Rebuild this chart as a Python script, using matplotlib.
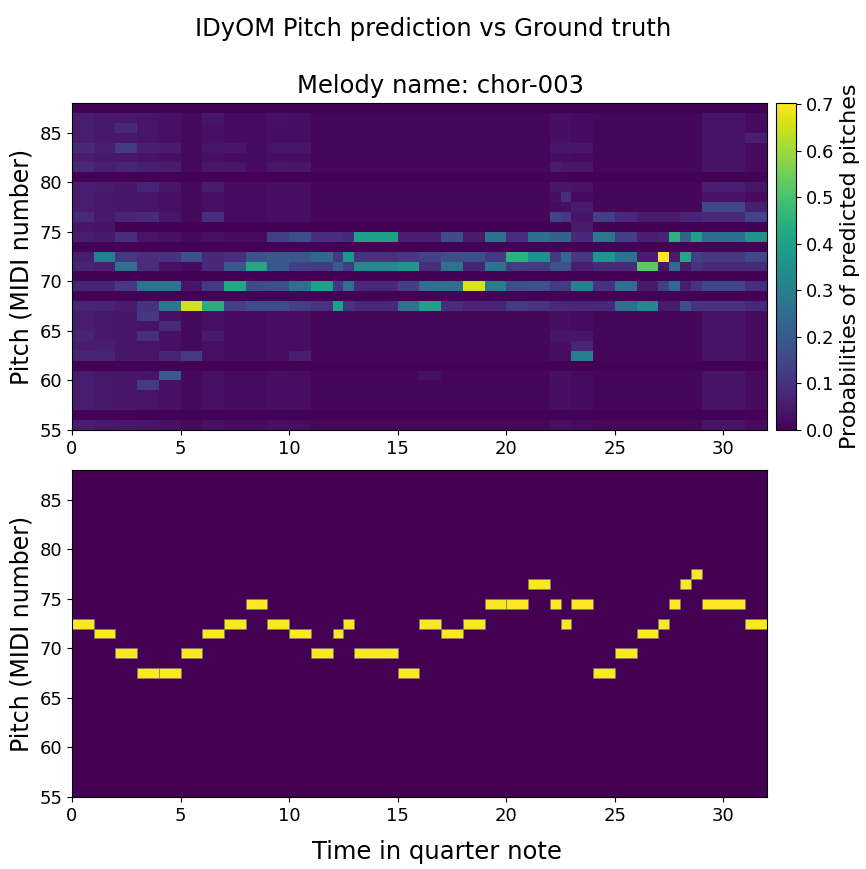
import numpy as np
import matplotlib
matplotlib.use("Agg")
import matplotlib.pyplot as plt

melody = "chor-003"

# note events (quarter notes): onset, duration, ground-truth MIDI pitch
onsets = [0, 1, 2, 3, 4, 5, 6, 7, 8, 9, 10, 11, 12, 12.5, 13, 15, 16, 17, 18, 19, 20,
          21, 22, 22.5, 23, 24, 25, 26, 27, 27.5, 28, 28.5, 29, 31]
durations = [1, 1, 1, 1, 1, 1, 1, 1, 1, 1, 1, 1, 0.5, 0.5, 2, 1, 1, 1, 1, 1, 1,
             1, 0.5, 0.5, 1, 1, 1, 1, 0.5, 0.5, 0.5, 0.5, 2, 1]
truth = [72, 71, 69, 67, 67, 69, 71, 72, 74, 72, 71, 69, 71, 72, 69, 67, 72, 71, 72, 74, 74,
         76, 74, 72, 74, 67, 69, 71, 72, 74, 76, 77, 74, 72]

pitch_lo, pitch_hi = 55, 88

# predicted probabilities
# "floor" = level of the faint cells in each event, dark_pitches = near zero rows
floor = [0.055, 0.045, 0.042, 0.038, 0.028, 0.018, 0.028, 0.02, 0.02, 0.025, 0.022,
         0.012, 0.012, 0.012, 0.012, 0.012, 0.012, 0.012, 0.012, 0.012, 0.012,
         0.012, 0.025, 0.025, 0.02, 0.012, 0.012, 0.012, 0.012, 0.012, 0.012, 0.012,
         0.035, 0.02]
dark_pitches = [56, 61, 68, 70, 73, 75, 80, 87]
dark_level = 0.003

probs = [
    {76: 0.085, 83: 0.08, 81: 0.08, 64: 0.07, 62: 0.07, 71: 0.07, 69: 0.07, 67: 0.07, 75: 0.04},
    {72: 0.30, 71: 0.06, 69: 0.07, 67: 0.07, 62: 0.07, 63: 0.06, 81: 0.06, 83: 0.06, 79: 0.05, 75: 0.035},
    {71: 0.26, 72: 0.11, 69: 0.11, 83: 0.12, 85: 0.08, 74: 0.09, 76: 0.07, 81: 0.07, 67: 0.05},
    {69: 0.27, 72: 0.09, 71: 0.09, 67: 0.10, 66: 0.11, 59: 0.12, 64: 0.09, 76: 0.08, 79: 0.07,
     81: 0.06, 83: 0.06},
    {69: 0.27, 67: 0.28, 72: 0.10, 60: 0.20, 65: 0.08, 62: 0.07, 83: 0.05, 81: 0.05, 76: 0.04,
     79: 0.04, 71: 0.03},
    {67: 0.65, 72: 0.17, 69: 0.04, 62: 0.12, 71: 0.02},
    {67: 0.44, 69: 0.12, 72: 0.08, 71: 0.08, 76: 0.09, 79: 0.05, 64: 0.05, 83: 0.04, 81: 0.04,
     86: 0.04},
    {69: 0.42, 71: 0.19, 67: 0.13, 72: 0.09, 83: 0.04, 81: 0.04},
    {71: 0.42, 72: 0.18, 69: 0.16, 67: 0.16},
    {72: 0.19, 71: 0.19, 69: 0.17, 67: 0.16, 74: 0.13, 83: 0.04, 81: 0.04, 86: 0.03, 85: 0.03},
    {74: 0.17, 72: 0.19, 71: 0.13, 69: 0.25, 67: 0.13, 62: 0.06, 83: 0.04, 81: 0.04},
    {74: 0.09, 72: 0.23, 71: 0.12, 69: 0.40, 67: 0.10},
    {74: 0.09, 72: 0.12, 71: 0.20, 69: 0.11, 67: 0.40},
    {74: 0.08, 72: 0.37, 71: 0.12, 69: 0.25, 67: 0.10},
    {74: 0.40, 72: 0.10, 71: 0.33, 69: 0.08, 67: 0.08},
    {74: 0.06, 72: 0.12, 71: 0.37, 69: 0.13, 67: 0.26},
    {74: 0.06, 72: 0.14, 71: 0.09, 69: 0.25, 67: 0.40, 60: 0.03},
    {74: 0.16, 72: 0.17, 71: 0.27, 69: 0.25, 67: 0.09},
    {74: 0.05, 72: 0.17, 71: 0.07, 69: 0.66, 67: 0.07},
    {74: 0.26, 72: 0.12, 71: 0.26, 69: 0.30, 67: 0.07},
    {74: 0.09, 72: 0.45, 71: 0.12, 69: 0.17, 67: 0.12},
    {74: 0.25, 72: 0.35, 71: 0.11, 69: 0.18, 67: 0.10},
    {76: 0.14, 74: 0.22, 72: 0.12, 71: 0.18, 69: 0.12, 67: 0.08, 77: 0.02, 79: 0.04, 81: 0.05,
     83: 0.04, 84: 0.03, 64: 0.04, 60: 0.03},
    {76: 0.12, 74: 0.22, 72: 0.24, 71: 0.18, 69: 0.12, 67: 0.08, 78: 0.09, 79: 0.04, 81: 0.04,
     83: 0.04, 84: 0.03, 64: 0.04, 60: 0.03},
    {76: 0.04, 74: 0.08, 72: 0.11, 71: 0.06, 69: 0.30, 67: 0.08, 62: 0.30, 63: 0.07, 77: 0.05,
     75: 0.05, 64: 0.04, 83: 0.04, 81: 0.04, 79: 0.035},
    {76: 0.13, 74: 0.28, 72: 0.36, 71: 0.08, 69: 0.10, 67: 0.08},
    {76: 0.08, 74: 0.13, 72: 0.26, 71: 0.08, 69: 0.25, 67: 0.25},
    {76: 0.05, 74: 0.06, 72: 0.05, 71: 0.52, 69: 0.05, 67: 0.33},
    {76: 0.05, 74: 0.07, 72: 0.703, 71: 0.04, 69: 0.13, 67: 0.05},
    {76: 0.05, 74: 0.45, 72: 0.05, 71: 0.24, 69: 0.24, 67: 0.05},
    {76: 0.07, 74: 0.22, 72: 0.42, 71: 0.05, 69: 0.06, 67: 0.17},
    {76: 0.07, 74: 0.40, 72: 0.13, 71: 0.10, 69: 0.10, 67: 0.10},
    {77: 0.15, 76: 0.08, 74: 0.25, 72: 0.11, 71: 0.08, 69: 0.15, 67: 0.10, 79: 0.06},
    {77: 0.06, 76: 0.14, 74: 0.36, 72: 0.15, 71: 0.08, 69: 0.09, 67: 0.08, 84: 0.06, 79: 0.04},
]

pitches = np.arange(pitch_lo, pitch_hi)
Z = np.zeros((len(pitches), len(onsets)))
for j in range(len(onsets)):
    Z[:, j] = floor[j]
    for p in dark_pitches:
        Z[p - pitch_lo, j] = dark_level
    for p, v in probs[j].items():
        Z[p - pitch_lo, j] = v

t_edges = np.append(onsets, onsets[-1] + durations[-1])
p_edges = np.arange(pitch_lo, pitch_hi + 1)

fig = plt.figure(figsize=(8.66, 8.69), dpi=100)
ax1 = fig.add_axes([0.0831, 0.5052, 0.8025, 0.3763])
cax = fig.add_axes([0.8961, 0.5052, 0.0231, 0.3763])
ax2 = fig.add_axes([0.0831, 0.0829, 0.8025, 0.3763])

cmap = plt.get_cmap("viridis")

mesh = ax1.pcolormesh(t_edges, p_edges, Z, cmap=cmap, vmin=0, vmax=Z.max())
ax1.set_title("Melody name: " + melody, fontsize=17.5, pad=7, x=0.531)
ax1.set_ylabel("Pitch (MIDI number)", fontsize=17)
cb = fig.colorbar(mesh, cax=cax)
cb.set_label("Probabilities of predicted pitches", fontsize=16)
cb.ax.tick_params(labelsize=13)

# ground truth piano roll
ax2.set_facecolor(cmap(0.0))
ax2.barh(truth, durations, left=onsets, height=1, align="edge",
         color=cmap(1.0), edgecolor="#6b7f80", linewidth=0.5)
ax2.set_ylabel("Pitch (MIDI number)", fontsize=17)

for ax in (ax1, ax2):
    ax.set_xlim(0, 32)
    ax.set_ylim(pitch_lo, pitch_hi)
    ax.set_xticks(range(0, 31, 5))
    ax.set_yticks(range(55, 86, 5))
    ax.tick_params(labelsize=13)

fig.suptitle("IDyOM Pitch prediction vs Ground truth", fontsize=17.5, y=0.981)
fig.text(0.505, 0.0196, "Time in quarter note", fontsize=17.5, ha="center", va="center")

fig.savefig("out.png", dpi=100)
